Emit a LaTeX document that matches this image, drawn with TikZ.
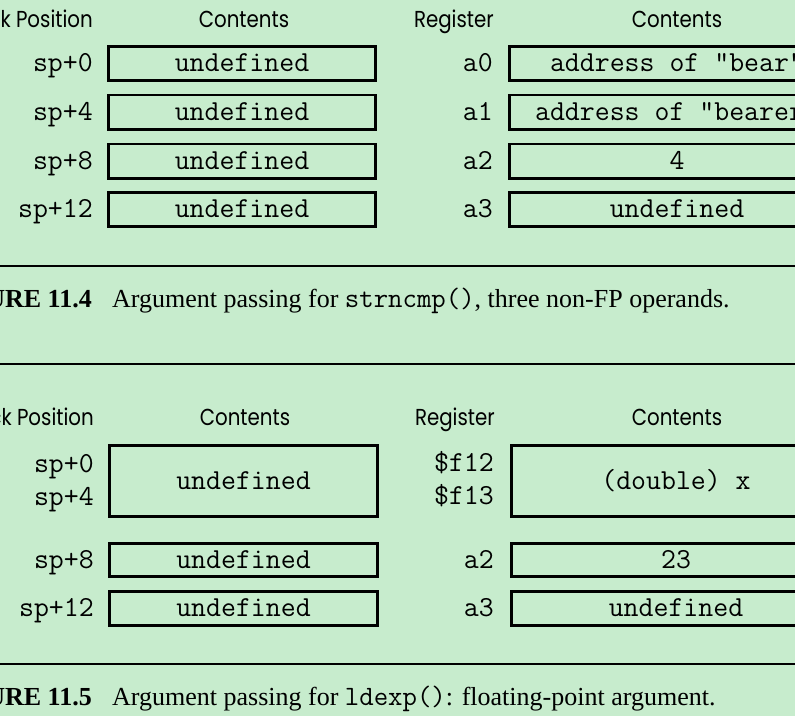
\documentclass[tikz,border=0pt]{standalone}
\usepackage{fontspec}
\setmainfont{Liberation Serif}
\newfontfamily\headfont{Poppins}
\definecolor{bg}{RGB}{199,236,205}
\newcommand{\hd}[1]{\scalebox{0.9}[1.05]{#1}}
\begin{document}
\begin{tikzpicture}[x=1pt,y=-1pt,
  cell/.style={draw=black, line width=2.7pt, inner sep=0pt, font=\fontsize{29}{32}\ttfamily, text height=16.5pt, text depth=0pt},
  lbl/.style={anchor=east, inner sep=0pt, font=\fontsize{29}{32}\ttfamily, text height=16.5pt, text depth=0pt},
  head/.style={anchor=base, inner sep=0pt, font=\fontsize{22}{26}\headfont},
  rulel/.style={line width=2pt},
  captext/.style={anchor=base west, inner sep=0pt, font=\fontsize{26}{30}\selectfont},
  capno/.style={anchor=base east, inner sep=0pt, font=\fontsize{26}{30}\bfseries},
]
\useasboundingbox (0,0) rectangle (795,716);
\clip (0,0) rectangle (795,716);
\fill[bg] (0,0) rectangle (795,716);
% ---------- Figure 11.4 ----------
\node[head, anchor=base east] (h1) at (93,27) {\hd{Stack Position}};
\node[head] (h2) at (244,27) {\hd{Contents}};
\node[head, anchor=base east] (h3) at (494,27) {\hd{Register}};
\node[head] (h4) at (677,27) {\hd{Contents}};
\foreach \y/\n in {63.5/0,112/1,161/2,209.5/3}{
  \node[cell, minimum width=267.3pt, minimum height=34.3pt] (l\n) at (242,\y) {undefined};
}
\node[lbl] (sl0) at (93,63.5) {sp+0};
\node[lbl] (sl1) at (93,112) {sp+4};
\node[lbl] (sl2) at (93,161) {sp+8};
\node[lbl] (sl3) at (93,209.5) {sp+12};
\node[cell, minimum width=335pt, minimum height=34.3pt] (r0) at (677,63.5) {address of "bear"};
\node[cell, minimum width=335pt, minimum height=34.3pt] (r1) at (677,112) {address of "bearer"};
\node[cell, minimum width=335pt, minimum height=34.3pt] (r2) at (677,161) {4};
\node[cell, minimum width=335pt, minimum height=34.3pt] (r3) at (677,209.5) {undefined};
\node[lbl] (rl0) at (493,63.5) {a0};
\node[lbl] (rl1) at (493,112) {a1};
\node[lbl] (rl2) at (493,161) {a2};
\node[lbl] (rl3) at (493,209.5) {a3};
\draw[rulel] (0,266) -- (795,266);
\node[capno] (f4) at (92,307.3) {FIGURE 11.4};
\node[captext] (c4) at (112,307.3) {Argument passing for {\fontsize{28}{30}\ttfamily strncmp()}, three non-FP operands.};
\draw[rulel] (0,364) -- (795,364);
% ---------- Figure 11.5 ----------
\node[head, anchor=base east] (k1) at (94,425) {\hd{Stack Position}};
\node[head] (k2) at (245,425) {\hd{Contents}};
\node[head, anchor=base east] (k3) at (495,425) {\hd{Register}};
\node[head] (k4) at (677,425) {\hd{Contents}};
\node[cell, minimum width=268.3pt, minimum height=71.3pt] (m0) at (243.5,481) {undefined};
\node[cell, minimum width=268.3pt, minimum height=33.5pt] (m1) at (243.5,560) {undefined};
\node[cell, minimum width=268.3pt, minimum height=34pt] (m2) at (243.5,608.5) {undefined};
\node[lbl] (ml0) at (94,464) {sp+0};
\node[lbl] (ml1) at (94,497) {sp+4};
\node[lbl] (ml2) at (94,560) {sp+8};
\node[lbl] (ml3) at (94,608.5) {sp+12};
\node[cell, minimum width=329.3pt, minimum height=71.3pt] (n0) at (676,481) {(double) x};
\node[cell, minimum width=329.3pt, minimum height=33.5pt] (n1) at (676,560) {23};
\node[cell, minimum width=329.3pt, minimum height=34pt] (n2) at (676,608.5) {undefined};
\node[lbl] (nl0) at (494,463) {\$f12};
\node[lbl] (nl1) at (494,496) {\$f13};
\node[lbl] (nl2) at (494,560) {a2};
\node[lbl] (nl3) at (494,608.5) {a3};
\draw[rulel] (0,664) -- (795,664);
\node[capno] (f5) at (92,705.3) {FIGURE 11.5};
\node[captext] (c5) at (112,705.3) {Argument passing for {\fontsize{28}{30}\ttfamily ldexp()}: floating-point argument.};
\end{tikzpicture}
\end{document}
